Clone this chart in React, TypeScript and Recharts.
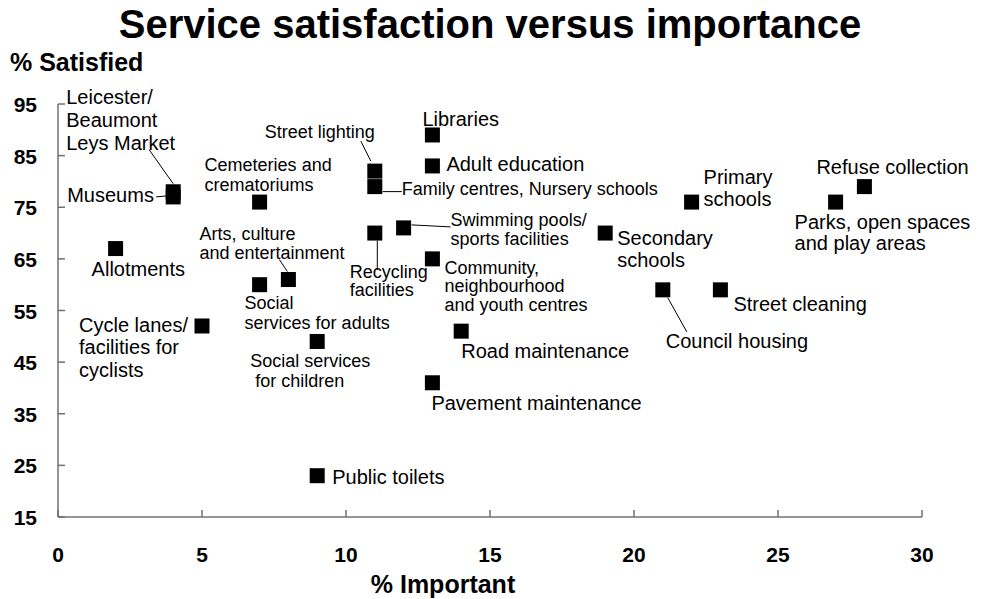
import React from "react";
import { ScatterChart, Scatter, XAxis, YAxis } from "recharts";

const services = [
	"Leicester/Beaumont Leys Market",
	"Museums",
	"Allotments",
	"Cycle lanes/facilities for cyclists",
	"Cemeteries and crematoriums",
	"Arts, culture and entertainment",
	"Social services for adults",
	"Social services for children",
	"Public toilets",
	"Street lighting",
	"Family centres, Nursery schools",
	"Recycling facilities",
	"Swimming pools/sports facilities",
	"Libraries",
	"Adult education",
	"Community, neighbourhood and youth centres",
	"Road maintenance",
	"Pavement maintenance",
	"Secondary schools",
	"Council housing",
	"Primary schools",
	"Street cleaning",
	"Parks, open spaces and play areas",
	"Refuse collection",
];

// % of residents rating the service as important
const important = [4, 4, 2, 5, 7, 8, 7, 9, 9, 11, 11, 11, 12, 13, 13, 13, 14, 13, 19, 21, 22, 23, 27, 28];

// % of residents satisfied with the service
const satisfied = [78, 77, 67, 52, 76, 61, 60, 49, 23, 82, 79, 70, 71, 89, 83, 65, 51, 41, 70, 59, 76, 59, 76, 79];

const xTicks = [0, 5, 10, 15, 20, 25, 30];
const yTicks = [15, 25, 35, 45, 55, 65, 75, 85, 95];

const data = services.map((name, i) => ({
	name,
	important: important[i],
	satisfied: satisfied[i],
}));

const FONT = "'Liberation Sans', Arial, Helvetica, sans-serif";
const AXIS = "#707070";

type LabelSpec = {
	lines: string[];
	dx: number;
	dy: number;
	lh?: number;
	size: number;
	indent?: number[];
	leader?: [number, number, number, number];
};

// where each point's caption sits, relative to the marker centre
const labelLayout: Record<string, LabelSpec> = {
	"Leicester/Beaumont Leys Market": {
		lines: ["Leicester/", "Beaumont", "Leys Market"],
		dx: -107, dy: -87.5, lh: 23, size: 20, leader: [-24, -42, 0, -8],
	},
	Museums: { lines: ["Museums"], dx: -106, dy: 5, size: 20, leader: [-17, 0, -7, -1] },
	Allotments: { lines: ["Allotments"], dx: -24, dy: 27.5, size: 20 },
	"Cycle lanes/facilities for cyclists": {
		lines: ["Cycle lanes/", "facilities for", "cyclists"],
		dx: -123, dy: 6, lh: 22.5, size: 20,
	},
	"Cemeteries and crematoriums": {
		lines: ["Cemeteries and", "crematoriums"], dx: -55, dy: -31, lh: 20, size: 18,
	},
	"Arts, culture and entertainment": {
		lines: ["Arts, culture", "and entertainment"],
		dx: -89, dy: -40, lh: 19, size: 18, leader: [-9, -20, -1, -8],
	},
	"Social services for adults": {
		lines: ["Social", "services for adults"], dx: -15, dy: 24.5, lh: 19.5, size: 18,
	},
	"Social services for children": {
		lines: ["Social services", "for children"], dx: -67, dy: 26, lh: 19.5, size: 18, indent: [0, 5],
	},
	"Public toilets": { lines: ["Public toilets"], dx: 15, dy: 8.5, size: 20 },
	"Street lighting": {
		lines: ["Street lighting"], dx: -110, dy: -33, size: 18, leader: [-14, -30, -4, -10],
	},
	"Family centres, Nursery schools": {
		lines: ["Family centres, Nursery schools"], dx: 27, dy: 8, size: 18, leader: [8, 5, 27, 5],
	},
	"Recycling facilities": {
		lines: ["Recycling", "facilities"], dx: -25, dy: 44.5, lh: 18.5, size: 18, leader: [2.5, 7.5, 2.5, 37],
	},
	"Swimming pools/sports facilities": {
		lines: ["Swimming pools/", "sports facilities"],
		dx: 47, dy: -2, lh: 19.5, size: 18, leader: [8, -3, 47, -1],
	},
	Libraries: { lines: ["Libraries"], dx: -10, dy: -8.5, size: 20 },
	"Adult education": { lines: ["Adult education"], dx: 14, dy: 5, size: 20 },
	"Community, neighbourhood and youth centres": {
		lines: ["Community,", "neighbourhood", "and youth centres"], dx: 12, dy: 15, lh: 18.5, size: 18,
	},
	"Road maintenance": { lines: ["Road maintenance"], dx: 0, dy: 27, size: 20 },
	"Pavement maintenance": { lines: ["Pavement maintenance"], dx: -1, dy: 27.5, size: 20 },
	"Secondary schools": { lines: ["Secondary", "schools"], dx: 12, dy: 12, lh: 21.5, size: 20 },
	"Council housing": { lines: ["Council housing"], dx: 3, dy: 58, size: 20, leader: [5, 8, 24, 42] },
	"Primary schools": { lines: ["Primary", "schools"], dx: 12, dy: -18, lh: 22, size: 20 },
	"Street cleaning": { lines: ["Street cleaning"], dx: 13, dy: 21, size: 20 },
	"Parks, open spaces and play areas": {
		lines: ["Parks, open spaces", "and play areas"], dx: -41, dy: 26.5, lh: 21.5, size: 20,
	},
	"Refuse collection": { lines: ["Refuse collection"], dx: -48, dy: -13, size: 20 },
};

const SQUARE = 15;

function ServiceMarker(props: any) {
	const { cx, cy, payload } = props;
	if (cx == null || cy == null) return null;
	const spec = labelLayout[payload.name];
	return (
		<g>
			<rect x={cx - SQUARE / 2} y={cy - SQUARE / 2} width={SQUARE} height={SQUARE} fill="#000" />
			{spec && spec.leader && (
				<line
					x1={cx + spec.leader[0]}
					y1={cy + spec.leader[1]}
					x2={cx + spec.leader[2]}
					y2={cy + spec.leader[3]}
					stroke="#000"
					strokeWidth={1}
				/>
			)}
			{spec &&
				spec.lines.map((line, i) => (
					<text
						key={i}
						x={cx + spec.dx + (spec.indent ? spec.indent[i] : 0)}
						y={cy + spec.dy + i * (spec.lh || 0)}
						fontFamily={FONT}
						fontSize={spec.size}
						fill="#000"
					>
						{line}
					</text>
				))}
		</g>
	);
}

function XTick(props: any) {
	const { x, y, payload } = props;
	return (
		<g>
			<line x1={x} y1={y} x2={x} y2={y - 7} stroke={AXIS} strokeWidth={1.5} />
			<text x={x} y={y + 45} textAnchor="middle" fontFamily={FONT} fontSize={21} fontWeight="bold" fill="#000">
				{payload.value}
			</text>
		</g>
	);
}

function YTick(props: any) {
	const { x, y, payload } = props;
	return (
		<g>
			<line x1={x} y1={y} x2={x + 7} y2={y} stroke={AXIS} strokeWidth={1.5} />
			<text x={x - 21} y={y + 8} textAnchor="end" fontFamily={FONT} fontSize={21} fontWeight="bold" fill="#000">
				{payload.value}
			</text>
		</g>
	);
}

export default function App() {
	return (
		<div style={{ position: "absolute", left: 0, top: 0, width: 981, height: 599, background: "#fff" }}>
			<ScatterChart
				width={981}
				height={599}
				margin={{ top: 104, right: 59, bottom: 22, left: 0 }}
			>
				<text x={490} y={38} textAnchor="middle" fontFamily={FONT} fontSize={40} fontWeight="bold" fill="#000">
					Service satisfaction versus importance
				</text>
				<text x={10} y={71} fontFamily={FONT} fontSize={25} fontWeight="bold" fill="#000">
					% Satisfied
				</text>
				<text x={443} y={593} textAnchor="middle" fontFamily={FONT} fontSize={25} fontWeight="bold" fill="#000">
					% Important
				</text>
				<XAxis
					type="number"
					dataKey="important"
					domain={[0, 30]}
					ticks={xTicks}
					interval={0}
					height={60}
					tickSize={0}
					tickMargin={0}
					tickLine={false}
					axisLine={{ stroke: AXIS, strokeWidth: 1.5 }}
					tick={<XTick />}
				/>
				<YAxis
					type="number"
					dataKey="satisfied"
					domain={[15, 95]}
					ticks={yTicks}
					interval={0}
					width={58}
					tickSize={0}
					tickMargin={0}
					tickLine={false}
					axisLine={{ stroke: AXIS, strokeWidth: 1.5 }}
					tick={<YTick />}
				/>
				<Scatter data={data} shape={<ServiceMarker />} isAnimationActive={false} />
			</ScatterChart>
		</div>
	);
}
